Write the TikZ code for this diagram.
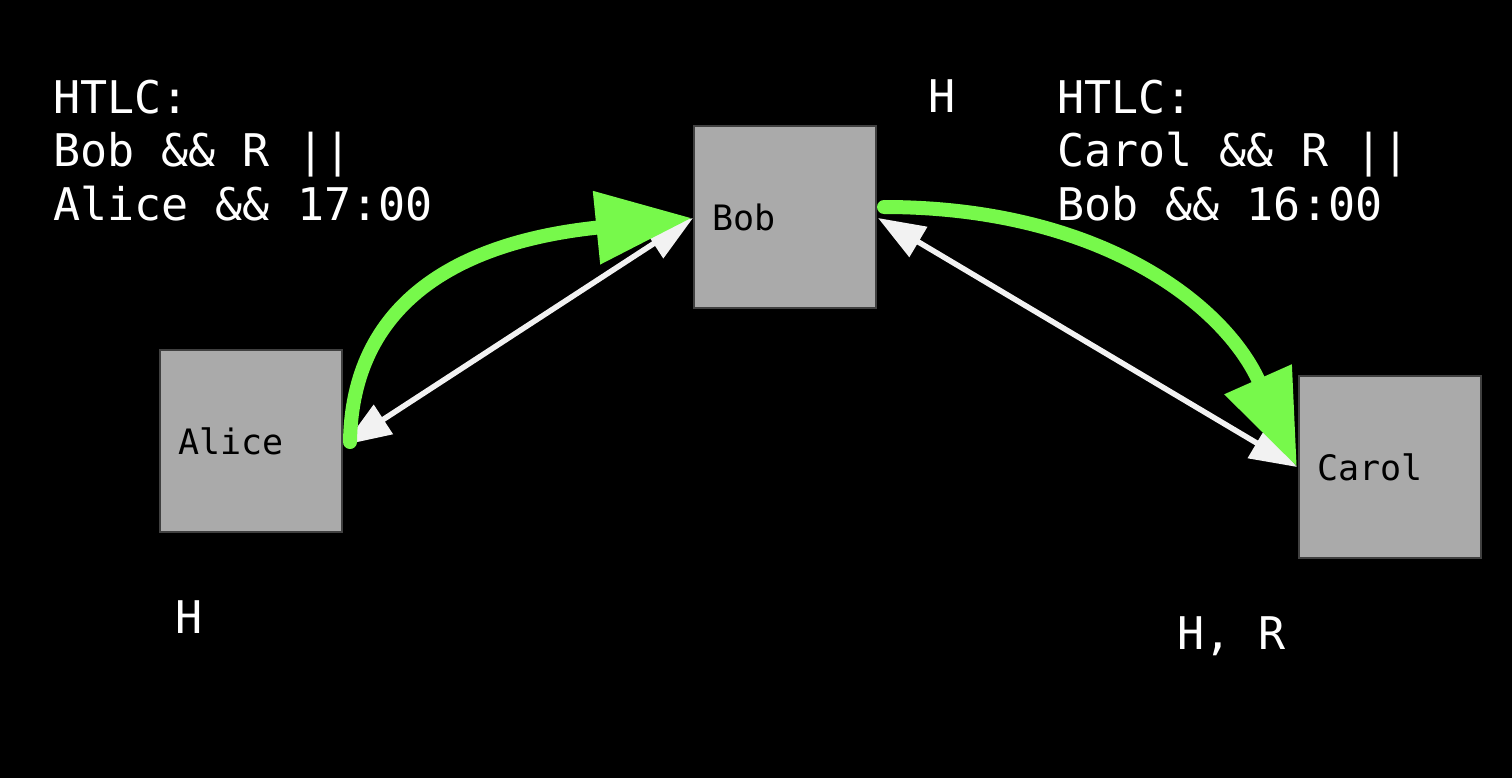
\documentclass[tikz,border=0pt]{standalone}
\usepackage{fontspec}
\setmonofont{DejaVu Sans Mono}
\usetikzlibrary{arrows.meta}
\definecolor{boxgrey}{HTML}{AAAAAA}
\definecolor{boxedge}{HTML}{404040}
\definecolor{paygreen}{HTML}{77F94B}
\definecolor{chanwhite}{HTML}{F2F2F2}
\tikzset{
  party/.style={draw=boxedge, line width=2pt, fill=boxgrey, minimum height=182pt,
    text width=146pt, inner xsep=18pt, inner ysep=0pt, align=left, text=black,
    font=\ttfamily\fontsize{35}{42}\selectfont},
  note/.style={text=white, inner sep=0pt, align=left, anchor=base west,
    font=\ttfamily\fontsize{45}{53.5}\selectfont},
  link/.style={draw=chanwhite, line width=5.5pt,
    {Triangle[length=47pt,width=34pt]}-{Triangle[length=47pt,width=34pt]}},
  flow/.style={draw=paygreen, line width=14pt, line cap=round,
    -{Triangle[length=96pt,width=70pt]}}
}
\begin{document}
\begin{tikzpicture}[x=1pt,y=-1pt]
  \fill[black] (0,0) rectangle (1512,778);
  \useasboundingbox (0,0) rectangle (1512,778);
  %% channel parties
  \node[party] (alice) at (251,441) {Alice};
  \node[party] (bob) at (785,217) {Bob};
  \node[party] (carol) at (1390,467) {Carol};
  %% contract texts (anchored on their last line)
  \node[note] (htlcab) at (53,220) {HTLC:\\Bob \&\& R ||\\Alice \&\& 17:00};
  \node[note] (htlcbc) at (1057,220) {HTLC:\\Carol \&\& R ||\\Bob \&\& 16:00};
  \node[note] (hbob) at (928,113) {H};
  \node[note] (halice) at (175,633) {H};
  \node[note] (hcarol) at (1177,649) {H, R};
  %% channels
  \draw[link] ([xshift=1pt,yshift=-4pt]alice.east) -- ([yshift=-1pt]bob.west);
  \draw[link] ([xshift=1pt,yshift=-1pt]bob.east) -- ([xshift=-1pt]carol.west);
  %% payments
  \draw[flow] ([xshift=7pt,yshift=-1pt]alice.east) .. controls (352,305) and (455,242) .. ([xshift=-1pt,yshift=-1pt]bob.west);
  \draw[flow] ([xshift=7pt,yshift=10pt]bob.east) .. controls (1100,207) and (1225,305) .. ([xshift=-1pt]carol.west);
\end{tikzpicture}
\end{document}
